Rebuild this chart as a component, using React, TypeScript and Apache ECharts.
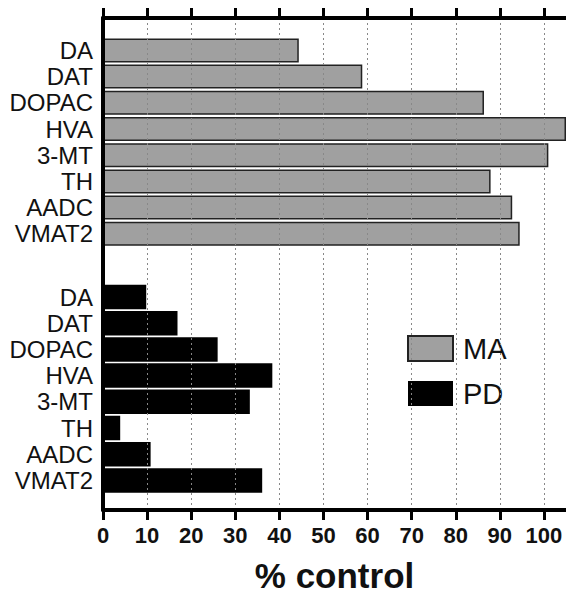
import React, { useEffect, useRef } from "react";
import * as echarts from "echarts";

const markers = ["DA", "DAT", "DOPAC", "HVA", "3-MT", "TH", "AADC", "VMAT2"];
const maValues = [44.4, 58.8, 86.4, 105, 101.0, 87.9, 92.8, 94.5];
const pdValues = [9.8, 16.9, 26.0, 38.4, 33.3, 3.9, 10.8, 36.1];
const xTicks = [0, 10, 20, 30, 40, 50, 60, 70, 80, 90, 100];
const xMin = 0;
const xMax = 105;

const FONT = "'Liberation Sans', Arial, sans-serif";

export default function App() {
  const ref = useRef<HTMLDivElement>(null);

  useEffect(() => {
    document.body.style.margin = "0";
    if (!ref.current) return;
    const chart = echarts.init(ref.current, null, { renderer: "svg" });

    const gridLeft = 103;
    const bandH = 26.2;
    const maTop = 37.3;
    const pdTop = 283.9;

    const hiddenX = (gridIndex: number) => ({
      type: "value",
      gridIndex,
      min: xMin,
      max: xMax,
      show: false,
    });

    const catY = (gridIndex: number) => ({
      type: "category",
      gridIndex,
      inverse: true,
      data: markers,
      axisLine: { show: false },
      axisTick: { show: false },
      splitLine: { show: false },
      axisLabel: {
        interval: 0,
        margin: 10,
        fontSize: 24,
        fontFamily: FONT,
        color: "#111",
      },
    });

    chart.setOption({
      animation: false,
      backgroundColor: "#fff",
      textStyle: { fontFamily: FONT },
      grid: [
        { left: gridLeft, right: 0, top: 18, bottom: 88 },
        { left: gridLeft, right: 0, top: maTop, height: bandH * markers.length },
        { left: gridLeft, right: 0, top: pdTop, height: bandH * markers.length },
      ],
      legend: {
        data: ["MA", "PD"],
        orient: "vertical",
        left: 402,
        top: 329,
        itemWidth: 45,
        itemHeight: 25,
        itemGap: 16,
        icon: "rect",
        textStyle: {
          fontSize: 29,
          fontFamily: FONT,
          color: "#111",
          padding: [0, 0, 0, 5],
        },
      },
      xAxis: [
        {
          type: "value",
          gridIndex: 0,
          position: "bottom",
          min: xMin,
          max: xMax,
          interval: 10,
          z: 5,
          axisLine: { show: true, lineStyle: { color: "#000", width: 4 } },
          axisTick: {
            show: true,
            length: 10,
            customValues: xTicks,
            lineStyle: { color: "#000", width: 3 },
          },
          axisLabel: {
            customValues: xTicks,
            margin: 14,
            fontSize: 22,
            fontWeight: "bold",
            fontFamily: FONT,
            color: "#111",
          },
          splitLine: {
            show: true,
            lineStyle: { color: "#888", width: 1, type: [2, 3] },
          },
          name: "% control",
          nameLocation: "middle",
          nameGap: 48,
          nameTextStyle: {
            fontSize: 35,
            fontWeight: "bold",
            fontFamily: FONT,
            color: "#111",
          },
        },
        {
          type: "value",
          gridIndex: 0,
          position: "top",
          min: xMin,
          max: xMax,
          interval: 10,
          z: 5,
          axisLine: { show: true, lineStyle: { color: "#000", width: 4 } },
          axisTick: {
            show: true,
            length: 10,
            customValues: xTicks,
            lineStyle: { color: "#000", width: 3 },
          },
          axisLabel: { show: false },
          splitLine: { show: false },
        },
        hiddenX(1),
        hiddenX(2),
      ],
      yAxis: [
        {
          type: "value",
          gridIndex: 0,
          min: 0,
          max: 1,
          z: 5,
          axisLine: { show: true, lineStyle: { color: "#000", width: 4 } },
          axisTick: { show: false },
          axisLabel: { show: false },
          splitLine: { show: false },
        },
        catY(1),
        catY(2),
      ],
      series: [
        {
          name: "MA",
          type: "bar",
          xAxisIndex: 2,
          yAxisIndex: 1,
          data: maValues,
          barWidth: 24,
          itemStyle: { color: "#a0a0a0", borderColor: "#222", borderWidth: 1.5 },
        },
        {
          name: "PD",
          type: "bar",
          xAxisIndex: 3,
          yAxisIndex: 2,
          data: pdValues,
          barWidth: 24.5,
          itemStyle: { color: "#000" },
        },
      ],
    });

    return () => chart.dispose();
  }, []);

  return <div ref={ref} style={{ width: 566, height: 598 }} />;
}
